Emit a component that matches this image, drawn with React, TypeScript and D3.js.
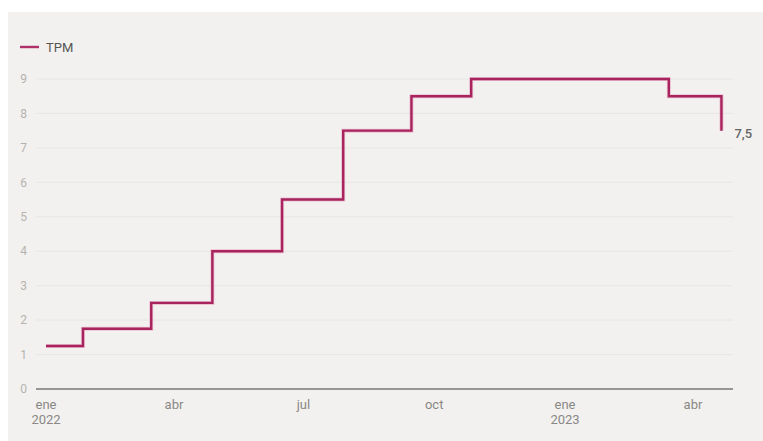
import React from "react";
import * as d3 from "d3";

const stepDates = [
  "2022-01-01", "2022-01-27", "2022-03-16", "2022-04-28", "2022-06-16",
  "2022-07-29", "2022-09-15", "2022-10-27", "2023-03-15", "2023-04-21",
];
const stepValues = [1.25, 1.75, 2.5, 4, 5.5, 7.5, 8.5, 9, 8.5, 7.5];
const endDate = "2023-04-21";
const yTicks = [0, 1, 2, 3, 4, 5, 6, 7, 8, 9];
const xTickDates = ["2022-01-01", "2022-04-01", "2022-07-01", "2022-10-01", "2023-01-01", "2023-04-01"];
const xTickLabels = ["ene", "abr", "jul", "oct", "ene", "abr"];
const xTickYears = ["2022", "", "", "", "2023", ""];
const seriesName = "TPM";
const lastLabel = "7,5";

const W = 763;
const H = 441;
const parse = d3.timeParse("%Y-%m-%d");

export default function App() {
  const x = d3
    .scaleTime()
    .domain([parse("2022-01-01")!, parse("2023-04-01")!])
    .range([46, 693]);
  const y = d3.scaleLinear().domain([0, 9]).range([389, 79]);

  const pts: [Date, number][] = stepValues.map((v, i) => [parse(stepDates[i])!, v]);
  pts.push([parse(endDate)!, stepValues[stepValues.length - 1]]);
  const line = d3
    .line<[Date, number]>()
    .x((d) => x(d[0]))
    .y((d) => y(d[1]))
    .curve(d3.curveStepAfter);
  const path = line(pts) || "";

  const font = "Roboto, 'Noto Sans', Arial, sans-serif";
  const x0 = 36;
  const x1 = 733;
  const last = pts[pts.length - 1];

  return (
    <svg
      width={W}
      height={H}
      style={{ position: "absolute", left: 0, top: 0, display: "block" }}
      fontFamily={font}
    >
      <rect x={0} y={0} width={W} height={H} fill="#ffffff" />
      <rect x={8} y={12} width={W - 8} height={H - 12} fill="#f2f1ef" />
      {yTicks.map((t) => (
        <g key={t}>
          {t > 0 && (
            <line x1={x0} x2={x1} y1={y(t)} y2={y(t)} stroke="#e8e6e3" strokeWidth={1} />
          )}
          <text x={27} y={y(t)} dy="0.35em" textAnchor="end" fontSize={12} fill="#b5b3b0">
            {t}
          </text>
        </g>
      ))}
      <line x1={x0} x2={x1} y1={y(0)} y2={y(0)} stroke="#777" strokeWidth={1.3} />
      {xTickDates.map((d, i) => (
        <g key={d}>
          <text x={x(parse(d)!)} y={408.5} textAnchor="middle" fontSize={13} fill="#8a8886">
            {xTickLabels[i]}
          </text>
          {xTickYears[i] && (
            <text x={x(parse(d)!)} y={424} textAnchor="middle" fontSize={13} fill="#8a8886">
              {xTickYears[i]}
            </text>
          )}
        </g>
      ))}
      <path d={path} fill="none" stroke="#e9a3c0" strokeWidth={4} strokeOpacity={0.6} />
      <path d={path} fill="none" stroke="#a8245e" strokeWidth={2.4} />
      <text x={x(last[0]) + 13} y={y(last[1]) + 3} dy="0.35em" fontSize={13} fill="#666" fontWeight={500}>
        {lastLabel}
      </text>
      <line x1={20} x2={39} y1={47} y2={47} stroke="#b0306a" strokeWidth={2.4} />
      <text x={46} y={47} dy="0.35em" fontSize={13} fill="#555">
        {seriesName}
      </text>
    </svg>
  );
}
